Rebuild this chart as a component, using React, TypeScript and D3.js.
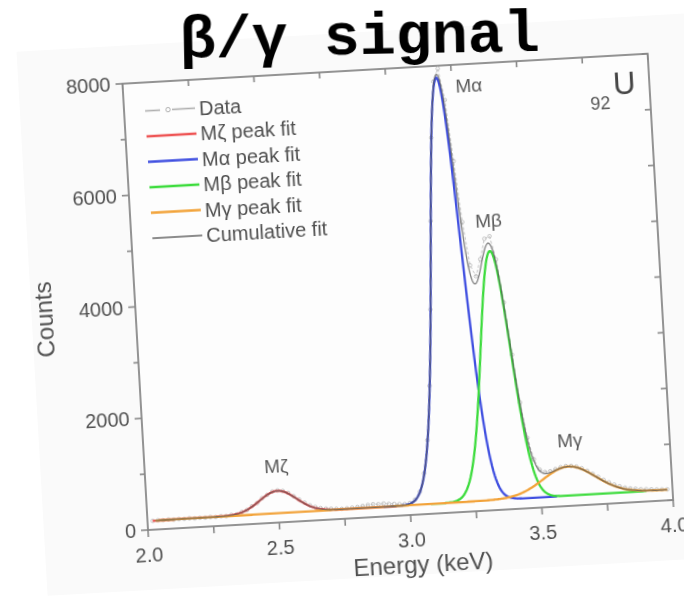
import React from "react";
import * as d3 from "d3";

// ---------- data ----------
const energyStart = 2.02;
const energyStep = 0.02;
const dataCounts = [
  158, 163, 160, 166, 159, 164, 161, 167, 160, 165,
  162, 168, 163, 172, 168, 185, 190, 225, 255, 318,
  370, 452, 505, 560, 575, 560, 520, 455, 392, 330,
  275, 240, 215, 200, 192, 185, 180, 183, 190, 198,
  210, 222, 230, 226, 232, 220, 215, 205, 200, 215,
  270, 405, 730, 1320, 2290, 3650, 5230, 6720, 7720, 7950,
  7380, 6280, 5180, 4400, 4200, 4500, 4860, 4900, 4480, 3700,
  2760, 1900, 1260, 870, 680, 630, 640, 672, 700, 715,
  712, 695, 660, 610, 550, 490, 432, 380, 335, 300,
  270, 250, 240, 226, 220, 212, 205, 200, 196,
];

// peak fit parameters (Mζ, Mα, Mβ, Mγ)
const peakNames = ["Mζ", "Mα", "Mβ", "Mγ"];
const peakCenters = [2.5, 3.192, 3.358, 3.61];
const peakSigmas = [0.07, 0.057, 0.0565, 0.1];
const peakHeights = [400, 7610, 4455, 520];
const peakFrom = [2.02, 2.9, 3.08, 2.03];
const peakTo = [2.95, 3.56, 3.9, 3.98];
const peakColors = ["#ee5555", "#3f4fe0", "#3edc3e", "#f2a33a"];
const backgroundCounts = [160, 190]; // linear background at 2.0 and 4.0 keV

// peak annotation positions (energy, counts)
const peakLabelE = [2.5, 3.314, 3.36, 3.62];
const peakLabelC = [900, 7500, 5060, 1050];

const xTickValues = [2.0, 2.25, 2.5, 2.75, 3.0, 3.25, 3.5, 3.75, 4.0];
const xLabelValues = [2.0, 2.5, 3.0, 3.5, 4.0];
const yTickValues = [0, 1000, 2000, 3000, 4000, 5000, 6000, 7000, 8000];
const yLabelValues = [0, 2000, 4000, 6000, 8000];

const legendLabels = ["Data", "Mζ peak fit", "Mα peak fit", "Mβ peak fit", "Mγ peak fit", "Cumulative fit"];
const legendColors = ["#aaaaaa", ...peakColors, "#666666"];

// ---------- layout ----------
const W = 684;
const H = 599;
const L = 148, R = 674, T = 83, B = 530;
const ROT = -3.27;
const FONT = "'Liberation Sans', Arial, Helvetica, sans-serif";
const AX = "#888888";
const TXT = "#505050";

export default function App() {
  const x = d3.scaleLinear().domain([2, 4]).range([L, R]);
  const y = d3.scaleLinear().domain([0, 8000]).range([B, T]);

  const bg = (e: number) => backgroundCounts[0] + ((backgroundCounts[1] - backgroundCounts[0]) * (e - 2)) / 2;
  const g = (i: number, e: number) =>
    peakHeights[i] * Math.exp(-((e - peakCenters[i]) ** 2) / (2 * peakSigmas[i] ** 2));

  const line = d3
    .line<[number, number]>()
    .x((d) => x(d[0]))
    .y((d) => y(d[1]));

  const sample = (a: number, b: number) => {
    const n = Math.round((b - a) / 0.004);
    return d3.range(n + 1).map((k) => a + ((b - a) * k) / n);
  };

  const peakPaths = peakCenters.map((_, i) =>
    line(sample(peakFrom[i], peakTo[i]).map((e) => [e, bg(e) + g(i, e)] as [number, number]))
  );
  const cumPath = line(
    sample(2.03, 3.98).map((e) => [e, bg(e) + peakCenters.reduce((s, _, i) => s + g(i, e), 0)] as [number, number])
  );
  const dataPts = dataCounts.map((c, i) => [energyStart + i * energyStep, c] as [number, number]);
  const dataPath = line(dataPts);

  const legX0 = 169, legX1 = 219, legTX = 223, legY0 = 111.5, legDY = 25.5;

  return (
    <svg
      width={W}
      height={H}
      viewBox={`0 0 ${W} ${H}`}
      style={{ position: "absolute", left: 0, top: 0, background: "#ffffff" }}
    >
      <defs>
        <filter id="soft" x="-5%" y="-5%" width="110%" height="110%">
          <feGaussianBlur stdDeviation="0.55" />
        </filter>
      </defs>
      <g transform={`rotate(${ROT}, ${L}, ${B})`}>
        <rect x={44} y={45} width={720} height={545} fill="#fafafa" />
        <g filter="url(#soft)">
          {/* frame */}
          <rect x={L} y={T} width={R - L} height={B - T} fill="#fdfdfd" stroke={AX} strokeWidth={1.8} />
          {/* x ticks */}
          {xTickValues.map((v) => (
            <g key={"xt" + v}>
              <line x1={x(v)} x2={x(v)} y1={B} y2={B + 7} stroke={AX} strokeWidth={1.6} />
              <line x1={x(v)} x2={x(v)} y1={T} y2={T + 6} stroke={AX} strokeWidth={1.6} />
            </g>
          ))}
          {xLabelValues.map((v) => (
            <text key={"xl" + v} x={x(v)} y={B + 32} textAnchor="middle" fontFamily={FONT} fontSize={20} fill={TXT}>
              {v.toFixed(1)}
            </text>
          ))}
          {/* y ticks */}
          {yTickValues.map((v) => (
            <g key={"yt" + v}>
              <line x1={L - (v % 2000 === 0 ? 7 : 5)} x2={L} y1={y(v)} y2={y(v)} stroke={AX} strokeWidth={1.6} />
              <line x1={R - 6} x2={R} y1={y(v)} y2={y(v)} stroke={AX} strokeWidth={1.6} />
            </g>
          ))}
          {yLabelValues.map((v) => (
            <text key={"yl" + v} x={L - 12} y={y(v)} dy="0.36em" textAnchor="end" fontFamily={FONT} fontSize={20} fill={TXT}>
              {v}
            </text>
          ))}
          {/* axis titles */}
          <text x={(L + R) / 2 + 10} y={588} textAnchor="middle" fontFamily={FONT} fontSize={24} fill={TXT}>
            Energy (keV)
          </text>
          <text
            transform={`translate(65, 314) rotate(-90)`}
            textAnchor="middle"
            fontFamily={FONT}
            fontSize={24}
            fill={TXT}
          >
            Counts
          </text>

          {/* data */}
          <path d={dataPath || ""} fill="none" stroke="#c4c4c4" strokeWidth={1} strokeDasharray="3,2" />
          {dataPts.map((d, i) => (
            <circle key={"dp" + i} cx={x(d[0])} cy={y(d[1])} r={1.8} fill="none" stroke="#b8b8b8" strokeWidth={0.8} />
          ))}

          {/* peak fits */}
          {peakPaths.map((p, i) => (
            <path key={"pk" + i} d={p || ""} fill="none" stroke={peakColors[i]} strokeWidth={2.3} />
          ))}
          {/* cumulative */}
          <path d={cumPath || ""} fill="none" stroke="#5a5a5a" strokeWidth={1.3} strokeOpacity={0.75} />

          {/* peak labels */}
          {peakNames.map((n, i) => (
            <text
              key={"pl" + i}
              x={x(peakLabelE[i])}
              y={y(peakLabelC[i])}
              textAnchor="middle"
              fontFamily={FONT}
              fontSize={19}
              fill="#5a5a5a"
            >
              {n}
            </text>
          ))}

          {/* element symbol */}
          <text x={624} y={136} textAnchor="middle" fontFamily={FONT} fontSize={18} fill="#555">
            92
          </text>
          <text x={649} y={122} textAnchor="middle" fontFamily={FONT} fontSize={31} fill="#444">
            U
          </text>

          {/* legend */}
          {legendLabels.map((lab, i) => {
            const ly = legY0 + i * legDY;
            return (
              <g key={"lg" + i}>
                {i === 0 ? (
                  <g>
                    <line x1={legX0} x2={legX0 + 15} y1={ly} y2={ly} stroke="#b0b0b0" strokeWidth={1.6} />
                    <circle cx={(legX0 + legX1) / 2 - 2} cy={ly} r={2.2} fill="none" stroke="#b0b0b0" strokeWidth={1} />
                    <line x1={legX0 + 27} x2={legX1} y1={ly} y2={ly} stroke="#b0b0b0" strokeWidth={1.6} />
                  </g>
                ) : (
                  <line
                    x1={legX0}
                    x2={legX1}
                    y1={ly}
                    y2={ly}
                    stroke={legendColors[i]}
                    strokeWidth={i === 5 ? 1.4 : 2.4}
                  />
                )}
                <text x={legTX} y={ly} dy="0.36em" fontFamily={FONT} fontSize={20} fill={TXT}>
                  {lab}
                </text>
              </g>
            );
          })}
        </g>
      </g>

      {/* title */}
      <text
        x={360}
        y={54}
        transform="rotate(-1, 360, 54)"
        textAnchor="middle"
        fontFamily="'Liberation Mono', 'Courier New', monospace"
        fontWeight="bold"
        fontSize={60}
        fill="#000"
      >
        β/γ signal
      </text>
    </svg>
  );
}
